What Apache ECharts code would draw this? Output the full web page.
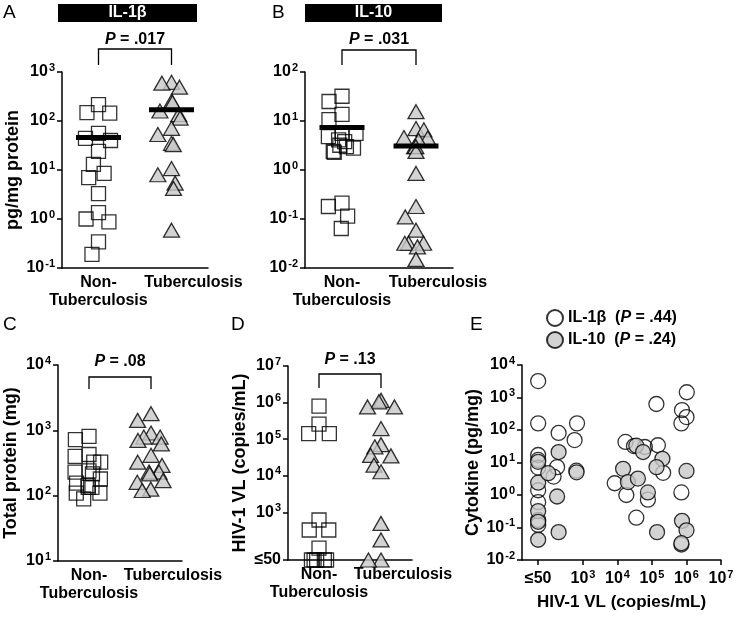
<!DOCTYPE html>
<html><head><meta charset="utf-8">
<script src="https://cdn.jsdelivr.net/npm/echarts@6/dist/echarts.min.js"></script>
<style>html,body{margin:0;padding:0;background:#fff}#c{width:736px;height:617px}</style>
</head><body><div id="c"></div>
<script>
// ---------------- data ----------------
const categories = ['Non-Tuberculosis', 'Tuberculosis'];
const pValues = ['.017', '.031', '.08', '.13'];
const legendP = ['.44', '.24'];
// A: IL-1β (pg/mg protein)
const aNonTb = [215, 148, 145, 56, 44, 40, 24, 13, 8.5, 7, 3.3, 1.35, 1.0, 0.87, 0.34, 0.19];
const aTb = [615, 590, 490, 250, 240, 160, 135, 115, 71, 53, 35, 33, 10.7, 8, 5.4, 4.2, 0.59];
const aMean = [46, 170];
// B: IL-10 (pg/mg protein)
const bNonTb = [32, 25, 13.6, 10.7, 5.6, 5.6, 4.8, 4.1, 3.8, 3.2, 3.0, 2.8, 2.4, 2.3, 0.21, 0.18, 0.115, 0.064];
const bTb = [15.5, 7, 6.6, 4.6, 4.5, 4, 3, 3, 2.4, 0.85, 0.18, 0.11, 0.059, 0.032, 0.032, 0.032, 0.027, 0.015];
const bMean = [7.4, 3.1];
// C: total protein (mg)
const cNonTb = [810, 720, 427, 398, 325, 325, 240, 230, 215, 180, 156, 142, 134, 134, 109, 109, 89];
const cTb = [1800, 1420, 910, 790, 790, 700, 620, 415, 325, 290, 230, 230, 215, 170, 160, 126, 120];
// D: HIV-1 VL (copies/mL)
const dNonTb = [800000, 257000, 142000, 142000, 620, 330, 330, 105, 50, 50, 50, 50, 50];
const dTb = [1150000, 1050000, 760000, 760000, 195000, 71000, 62000, 36000, 35000, 19500, 12900, 500, 177, 50, 50];
// E: cytokine vs VL  [VL, cytokine]
const eIL1b = [[50, 3200], [50, 160], [50, 17], [50, 12], [50, 7], [50, 1.4], [50, 0.6], [50, 0.17], [50, 0.12],
  [196, 81], [177, 7.2], [140, 3.7], [670, 160], [570, 49], [640, 5.6],
  [8300, 2.3], [17000, 43], [18000, 1.0], [30000, 32], [35000, 0.2], [62000, 30], [76000, 0.72],
  [134000, 630], [148000, 34], [210000, 4.8],
  [740000, 410], [1000000, 250], [710000, 160], [1020000, 1450], [710000, 1.2], [710000, 0.03]];
const eIL10 = [[50, 10.5], [50, 2.4], [50, 0.32], [50, 0.15], [50, 0.042], [98, 4.7], [196, 21], [177, 0.9], [196, 0.072],
  [650, 5], [14500, 6.4], [20000, 2.5], [35000, 33], [55000, 21], [39000, 3.2], [76000, 1.2],
  [140000, 0.072], [200000, 13], [135000, 7.2], [1000000, 5.5], [740000, 0.16], [1000000, 0.082], [710000, 0.033]];
// tick values
const ticksA = [0.1, 1, 10, 100, 1000];
const ticksB = [0.01, 0.1, 1, 10, 100];
const ticksC = [10, 100, 1000, 10000];
const ticksD = [50, 1e3, 1e4, 1e5, 1e6, 1e7];
const ticksEy = [0.01, 0.1, 1, 10, 100, 1000, 10000];
const ticksEx = [50, 1e3, 1e4, 1e5, 1e6, 1e7];

// ---------------- styling ----------------
const FONT = 'Liberation Sans';
const rich = {
  b: {fontFamily: FONT, fontSize: 16, fontWeight: 'bold', color: '#000', lineHeight: 20},
  s: {fontFamily: FONT, fontSize: 11, fontWeight: 'bold', color: '#000', verticalAlign: 'top', padding: [0, 0, 0, 1]}
};
function powLabel(v) {
  if (Math.abs(v - 50) < 1e-6) return '{b|≤50}';
  const e = Math.round(Math.log10(v));
  return '{b|10}{s|' + (e < 0 ? '-' + (-e) : e) + '}';
}
const AX = {color: '#000', width: 1.5};
const grids = [
  {left: 62, top: 72, width: 146, height: 196},
  {left: 305, top: 72, width: 148, height: 196},
  {left: 58, top: 365, width: 124, height: 196},
  {left: 288, top: 366, width: 124, height: 194},
  {left: 522, top: 365, width: 199, height: 195}
].map(g => Object.assign({containLabel: false, outerBoundsMode: 'none'}, g));

const catRich = {
  n: {fontFamily: FONT, fontSize: 16, fontWeight: 'bold', color: '#000', lineHeight: 18},
  t: {fontFamily: FONT, fontSize: 16, fontWeight: 'bold', color: '#000', lineHeight: 18, padding: [0, 0, 0, 44]}
};
function catAxis(gi) {
  return {
    type: 'category', gridIndex: gi, data: categories, boundaryGap: true,
    jitter: 28, jitterOverlap: false, jitterMargin: 0,
    axisLine: {lineStyle: AX},
    axisTick: {alignWithLabel: true, length: 5, lineStyle: AX},
    axisLabel: {interval: 0, margin: 6, rich: catRich,
      formatter: v => v === categories[0] ? '{n|Non-}\n{n|Tuberculosis}' : '{t|' + v + '}'},
    splitLine: {show: false}
  };
}
function logAxis(gi, min, max, ticks, name, nameGap) {
  return {
    type: 'log', logBase: 10, gridIndex: gi, min, max,
    name, nameLocation: 'middle', nameGap, nameRotate: 90,
    nameTextStyle: {fontFamily: FONT, fontSize: 18, fontWeight: 'bold', color: '#000'},
    axisLine: {show: true, lineStyle: AX},
    axisTick: {show: true, length: 5, customValues: ticks, lineStyle: AX},
    axisLabel: {customValues: ticks, formatter: powLabel, margin: 7, rich},
    splitLine: {show: false}, minorTick: {show: false}, minorSplitLine: {show: false}
  };
}
const squareStyle = {color: 'transparent', borderColor: '#000', borderWidth: 1.3};
const triStyle = {color: '#c8c8c8', borderColor: '#000', borderWidth: 1.3};
function sq(gi, vals) {
  return {type: 'scatter', xAxisIndex: gi, yAxisIndex: gi, symbol: 'rect', symbolSize: 14,
    itemStyle: squareStyle, data: vals.map(v => [categories[0], v]), silent: true};
}
function tri(gi, vals) {
  return {type: 'scatter', xAxisIndex: gi, yAxisIndex: gi, symbol: 'triangle', symbolSize: [16, 14],
    itemStyle: triStyle, data: vals.map(v => [categories[1], v]), silent: true};
}
function meanBar(gi, vals) {
  return {type: 'line', xAxisIndex: gi, yAxisIndex: gi, symbol: 'rect', symbolSize: [45, 5], showAllSymbol: true,
    lineStyle: {width: 0, opacity: 0}, itemStyle: {color: '#000', borderWidth: 0}, z: 5, silent: true,
    data: vals.map((v, i) => [categories[i], v])};
}

const option = {
  animation: false,
  backgroundColor: '#fff',
  textStyle: {fontFamily: FONT},
  grid: grids,
  legend: {
    data: ['IL-1β', 'IL-10'], orient: 'vertical', left: 541, top: 304, itemWidth: 16, itemHeight: 16, itemGap: 4,
    selectedMode: false,
    textStyle: {fontFamily: FONT, fontSize: 16, fontWeight: 'bold', color: '#000',
      rich: {n: {fontFamily: FONT, fontSize: 16, fontWeight: 'bold', color: '#000'},
             i: {fontFamily: FONT, fontSize: 16, fontWeight: 'bold', fontStyle: 'italic', color: '#000'}}},
    formatter: name => '{n|' + name + '  (}{i|P}{n| = ' + (name === 'IL-1β' ? legendP[0] : legendP[1]) + ')}'
  },
  xAxis: [catAxis(0), catAxis(1), catAxis(2), catAxis(3), {
    type: 'log', logBase: 10, gridIndex: 4, min: 17, max: 1e7,
    name: 'HIV-1 VL (copies/mL)', nameLocation: 'middle', nameGap: 34,
    nameTextStyle: {fontFamily: FONT, fontSize: 17, fontWeight: 'bold', color: '#000'},
    axisLine: {show: true, lineStyle: AX},
    axisTick: {show: true, length: 5, customValues: ticksEx, lineStyle: AX},
    axisLabel: {customValues: ticksEx, formatter: powLabel, margin: 9, rich},
    splitLine: {show: false}, minorTick: {show: false}
  }],
  yAxis: [
    logAxis(0, 0.1, 1000, ticksA, 'pg/mg protein', 38),
    logAxis(1, 0.01, 100, ticksB, '', 38),
    logAxis(2, 10, 10000, ticksC, 'Total protein (mg)', 38),
    logAxis(3, 50, 1e7, ticksD, 'HIV-1 VL (copies/mL)', 39),
    logAxis(4, 0.01, 10000, ticksEy, 'Cytokine (pg/mg)', 24)
  ],
  series: [
    sq(0, aNonTb), tri(0, aTb), meanBar(0, aMean),
    sq(1, bNonTb), tri(1, bTb), meanBar(1, bMean),
    sq(2, cNonTb), tri(2, cTb),
    sq(3, dNonTb), tri(3, dTb),
    {name: 'IL-1β', type: 'scatter', xAxisIndex: 4, yAxisIndex: 4, symbol: 'circle', symbolSize: 15,
      itemStyle: {color: 'transparent', borderColor: '#000', borderWidth: 1.3}, data: eIL1b, silent: true},
    {name: 'IL-10', type: 'scatter', xAxisIndex: 4, yAxisIndex: 4, symbol: 'circle', symbolSize: 15,
      itemStyle: {color: '#c8c8c8', borderColor: '#000', borderWidth: 1.3}, data: eIL10, silent: true}
  ]
};

const chart = echarts.init(document.getElementById('c'));
chart.setOption(option);

// ---------------- annotations ----------------
const pRich = {
  i: {fontFamily: FONT, fontSize: 16, fontWeight: 'bold', fontStyle: 'italic', fill: '#000'},
  t: {fontFamily: FONT, fontSize: 16, fontWeight: 'bold', fill: '#000'}
};
const bracketLayout = [
  {axis: 0, top: -23, leg: -7, text: -32},
  {axis: 1, top: -22, leg: -7, text: -32},
  {axis: 2, top: 12, leg: 24, text: -3},
  {axis: 3, top: 8, leg: 22, text: -6}
];
const graphics = [];
bracketLayout.forEach((b, k) => {
  const x0 = chart.convertToPixel({xAxisIndex: b.axis}, categories[0]);
  const x1 = chart.convertToPixel({xAxisIndex: b.axis}, categories[1]);
  const gt = grids[b.axis].top;
  graphics.push({type: 'polyline', silent: true,
    shape: {points: [[x0, gt + b.leg], [x0, gt + b.top], [x1, gt + b.top], [x1, gt + b.leg]]},
    style: {stroke: '#000', lineWidth: 1.3, fill: null}});
  graphics.push({type: 'text', silent: true, x: (x0 + x1) / 2, y: gt + b.text,
    style: {text: '{i|P}{t| = ' + pValues[k] + '}', rich: pRich, align: 'center', verticalAlign: 'middle'}});
});
// title boxes
[['IL-1β', 58, 139], ['IL-10', 305, 137]].forEach(([t, x, w]) => {
  graphics.push({type: 'rect', silent: true, shape: {x, y: 4, width: w, height: 18}, style: {fill: '#000'}});
  graphics.push({type: 'text', silent: true, x: x + w / 2, y: 13,
    style: {text: t, fill: '#fff', font: 'bold 16px "' + FONT + '"', align: 'center', verticalAlign: 'middle'}});
});
// panel letters
[['A', 3, 3], ['B', 272, 3], ['C', 3, 315], ['D', 231, 315], ['E', 470, 315]].forEach(([t, x, y]) => {
  graphics.push({type: 'text', silent: true, x, y,
    style: {text: t, fill: '#000', font: '19px "' + FONT + '"', align: 'left', verticalAlign: 'top'}});
});
chart.setOption({graphic: graphics});
</script></body></html>
